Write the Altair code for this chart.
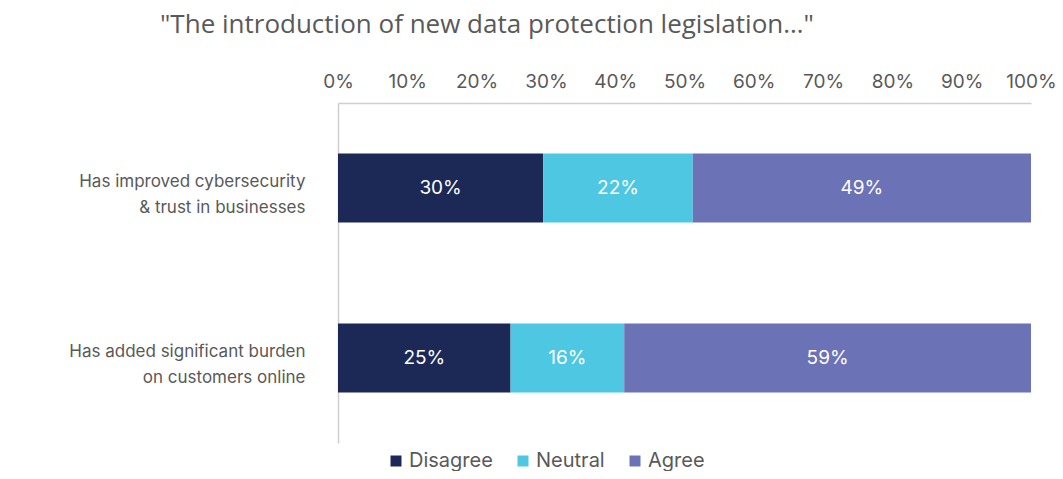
import altair as alt
import pandas as pd

statements = ["Has improved cybersecurity|& trust in businesses",
              "Has added significant burden|on customers online"]
responses = ["Disagree", "Neutral", "Agree"]
disagree = [29.6, 24.9]
neutral = [21.6, 16.4]
agree = [48.8, 58.7]
colors = ["#1c2957", "#4ec7e3", "#6b72b6"]
title_text = "\"The introduction of new data protection legislation\u2026\""

rows = []
for i, s in enumerate(statements):
    for j, (r, vals) in enumerate(zip(responses, [disagree, neutral, agree])):
        rows.append({"statement": s, "response": r, "order": j, "value": vals[i] / 100})
df = pd.DataFrame(rows)

FONT = "Inter"
GRAY = "#595959"

base = alt.Chart(df).transform_stack(
    stack="value", groupby=["statement"], as_=["x0", "x1"],
    sort=[alt.SortField("order", order="ascending")]
).transform_calculate(mid="(datum.x0 + datum.x1) / 2")

y_enc = alt.Y("statement:N", sort=statements, title=None,
              scale=alt.Scale(paddingInner=0.595, paddingOuter=0.2975),
              axis=alt.Axis(labelExpr="split(datum.label, '|')", labelFont=FONT,
                            labelFontSize=17, labelColor=GRAY, labelPadding=33,
                            labelLineHeight=26, labelLimit=0, labelOffset=-6,
                            ticks=False, domainColor="#cfcfcf",
                            domainWidth=1.5, labelAlign="right"))

bars = base.mark_bar().encode(
    x=alt.X("x0:Q", scale=alt.Scale(domain=[0, 1], nice=False), title=None,
            axis=alt.Axis(orient="top", format=".0%", values=[i / 10 for i in range(11)],
                          labelFont=FONT, labelFontSize=19, labelColor=GRAY,
                          labelPadding=12, ticks=False, grid=False,
                          labelOverlap=False, labelFlush=False,
                          domainColor="#cfcfcf", domainWidth=1.5)),
    x2="x1:Q",
    y=y_enc,
    color=alt.Color("response:N", sort=responses,
                    scale=alt.Scale(domain=responses, range=colors),
                    legend=alt.Legend(title=None, orient="none", direction="horizontal",
                                      legendX=48, legendY=348, symbolType="square",
                                      symbolSize=121, symbolStrokeWidth=0,
                                      labelFont=FONT, labelFontSize=20, labelColor=GRAY,
                                      labelOffset=3, columnPadding=20)),
)

labels = base.mark_text(color="white", font=FONT, fontSize=19).encode(
    x=alt.X("mid:Q"),
    y=alt.Y("statement:N", sort=statements),
    text=alt.Text("value:Q", format=".0%"),
)

chart = alt.layer(bars, labels).properties(
    width=693, height=340,
    padding={"left": 330, "top": 95, "right": 24, "bottom": 28},
    autosize=alt.AutoSizeParams(type="none"),
    title=alt.TitleParams(title_text, anchor="start", frame="group", dx=-178,
                          font="Open Sans", fontSize=26, fontWeight="normal",
                          color=GRAY, offset=34),
).configure_view(stroke=None)

chart.save("out.html", embed_options={"renderer": "svg", "actions": False})
